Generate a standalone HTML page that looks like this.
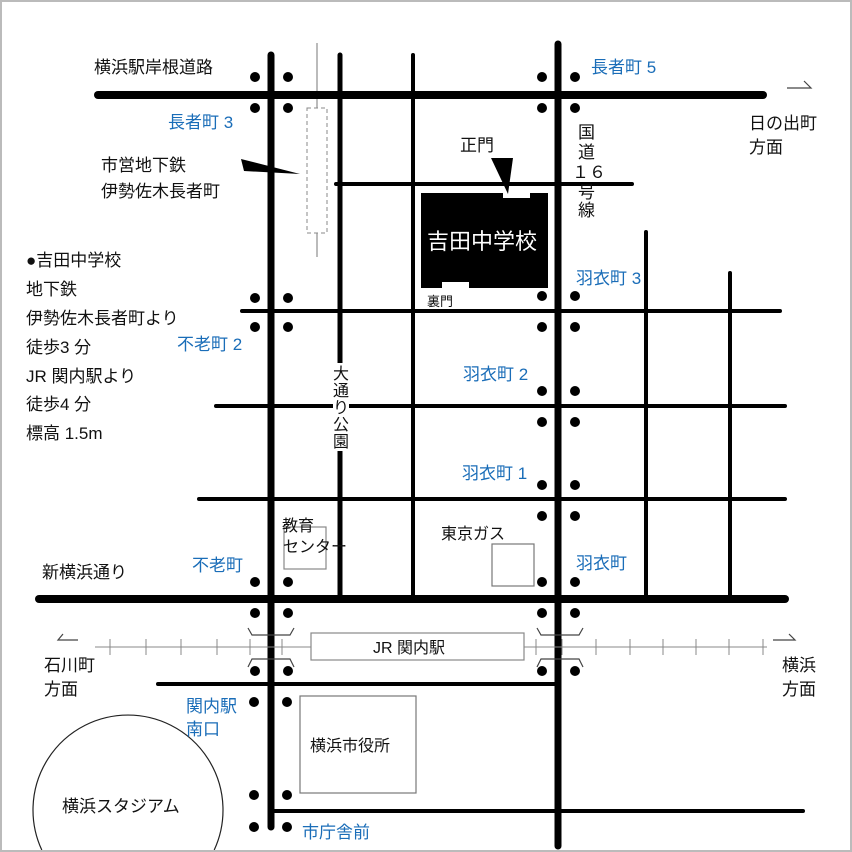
<!DOCTYPE html>
<html><head><meta charset="utf-8"><style>
html,body{margin:0;padding:0;background:#fff;width:852px;height:852px;overflow:hidden}
svg{display:block;overflow:hidden}
text{font-family:"Liberation Sans","Noto Sans CJK JP",sans-serif;font-size:17px;fill:#111}
.b{fill:#1a6db8}
</style></head><body>
<svg width="852" height="852" viewBox="0 0 852 852" xmlns="http://www.w3.org/2000/svg">
<rect x="0" y="0" width="852" height="852" fill="#fff"/>
<path d="M41.8 850 A95 95 0 1 1 214.2 850" fill="none" stroke="#222" stroke-width="1.2"/>
<rect x="1" y="1" width="850" height="850" fill="none" stroke="#bbb" stroke-width="2"/>
<line x1="317" y1="43" x2="317" y2="257" stroke="#777" stroke-width="1"/>
<rect x="307" y="108" width="20" height="125" fill="#fff" stroke="#888" stroke-width="1" stroke-dasharray="4,3"/>
<polygon points="241,159 244,171 300,174" fill="#000"/>
<g stroke="#000" stroke-linecap="round">
<line x1="340" y1="55" x2="340" y2="596" stroke-width="5"/>
<line x1="413" y1="55" x2="413" y2="596" stroke-width="4"/>
<line x1="646" y1="232" x2="646" y2="596" stroke-width="4"/>
<line x1="730" y1="273" x2="730" y2="596" stroke-width="4"/>
<line x1="336" y1="184" x2="632" y2="184" stroke-width="4"/>
<line x1="242" y1="311" x2="780" y2="311" stroke-width="4"/>
<line x1="216" y1="406" x2="785" y2="406" stroke-width="4"/>
<line x1="199" y1="499" x2="785" y2="499" stroke-width="4"/>
<line x1="158" y1="684" x2="555" y2="684" stroke-width="4"/>
<line x1="272" y1="811" x2="803" y2="811" stroke-width="4"/>
<line x1="98" y1="95" x2="763" y2="95" stroke-width="8"/>
<line x1="39" y1="599" x2="785" y2="599" stroke-width="8"/>
<line x1="271" y1="55" x2="271" y2="827" stroke-width="7"/>
<line x1="558" y1="44" x2="558" y2="846" stroke-width="7"/>
</g>
<g stroke="#888" stroke-width="1">
<line x1="95" y1="647" x2="311" y2="647"/>
<line x1="524" y1="647" x2="767" y2="647"/>
<line x1="110" y1="639" x2="110" y2="655"/><line x1="146" y1="639" x2="146" y2="655"/><line x1="181" y1="639" x2="181" y2="655"/><line x1="217" y1="639" x2="217" y2="655"/><line x1="250" y1="639" x2="250" y2="655"/><line x1="282" y1="639" x2="282" y2="655"/>
<line x1="536" y1="639" x2="536" y2="655"/><line x1="562" y1="639" x2="562" y2="655"/><line x1="596" y1="639" x2="596" y2="655"/><line x1="630" y1="639" x2="630" y2="655"/><line x1="663" y1="639" x2="663" y2="655"/><line x1="696" y1="639" x2="696" y2="655"/><line x1="729" y1="639" x2="729" y2="655"/><line x1="763" y1="639" x2="763" y2="655"/>
</g>
<g stroke="#444" stroke-width="1.2" fill="none">
<polyline points="248,628 252,635 290,635 294,628"/><polyline points="248,667 252,659 290,659 294,667"/>
<polyline points="537,628 541,635 579,635 583,628"/><polyline points="537,667 541,659 579,659 583,667"/>
<polyline points="78,640 58,640 63,634"/><polyline points="773,640 795,640 789,634"/>
<polyline points="787,88 811,88 804,81"/>
</g>
<rect x="311" y="633" width="213" height="27" fill="#fff" stroke="#888" stroke-width="1.2"/>
<text x="373" y="653" style="font-size:16px">JR 関内駅</text>
<rect x="300" y="696" width="116" height="97" fill="#fff" stroke="#777" stroke-width="1.2"/>
<text x="310" y="751" style="font-size:16px">横浜市役所</text>
<rect x="284" y="527" width="42" height="42" fill="#fff" stroke="#888" stroke-width="1.2"/>
<rect x="492" y="544" width="42" height="42" fill="#fff" stroke="#777" stroke-width="1.2"/>
<polygon points="421,193 503,193 503,198 530,198 530,193 548,193 548,288 469,288 469,282 442,282 442,288 421,288" fill="#000"/>
<polygon points="491,158 513,158 508,194" fill="#000"/>
<text x="427" y="249" style="font-size:22px;fill:#fff">吉田中学校</text>
<g fill="#000">
<circle cx="255" cy="77" r="5"/><circle cx="288" cy="77" r="5"/><circle cx="255" cy="108" r="5"/><circle cx="288" cy="108" r="5"/>
<circle cx="542" cy="77" r="5"/><circle cx="575" cy="77" r="5"/><circle cx="542" cy="108" r="5"/><circle cx="575" cy="108" r="5"/>
<circle cx="255" cy="298" r="5"/><circle cx="288" cy="298" r="5"/><circle cx="255" cy="327" r="5"/><circle cx="288" cy="327" r="5"/>
<circle cx="542" cy="296" r="5"/><circle cx="575" cy="296" r="5"/><circle cx="542" cy="327" r="5"/><circle cx="575" cy="327" r="5"/>
<circle cx="542" cy="391" r="5"/><circle cx="575" cy="391" r="5"/><circle cx="542" cy="422" r="5"/><circle cx="575" cy="422" r="5"/>
<circle cx="542" cy="485" r="5"/><circle cx="575" cy="485" r="5"/><circle cx="542" cy="516" r="5"/><circle cx="575" cy="516" r="5"/>
<circle cx="255" cy="582" r="5"/><circle cx="288" cy="582" r="5"/><circle cx="542" cy="582" r="5"/><circle cx="575" cy="582" r="5"/>
<circle cx="255" cy="613" r="5"/><circle cx="288" cy="613" r="5"/><circle cx="542" cy="613" r="5"/><circle cx="575" cy="613" r="5"/>
<circle cx="255" cy="671" r="5"/><circle cx="288" cy="671" r="5"/><circle cx="542" cy="671" r="5"/><circle cx="575" cy="671" r="5"/>
<circle cx="254" cy="702" r="5"/><circle cx="287" cy="702" r="5"/>
<circle cx="254" cy="795" r="5"/><circle cx="287" cy="795" r="5"/>
<circle cx="254" cy="827" r="5"/><circle cx="287" cy="827" r="5"/>
</g>
<text x="94" y="73">横浜駅岸根道路</text>
<text x="168" y="128" class="b">長者町 3</text>
<text x="591" y="73" class="b">長者町 5</text>
<text x="101" y="171">市営地下鉄</text>
<text x="101" y="197">伊勢佐木長者町</text>
<text x="460" y="151">正門</text>
<text x="578" y="138">国</text>
<text x="578" y="158">道</text>
<text x="572" y="178">１６</text>
<text x="578" y="198">号</text>
<text x="578" y="216">線</text>
<text x="749" y="129">日の出町</text>
<text x="749" y="153">方面</text>
<text x="26" y="266">●吉田中学校</text>
<text x="26" y="295">地下鉄</text>
<text x="26" y="324">伊勢佐木長者町より</text>
<text x="26" y="353">徒歩3 分</text>
<text x="26" y="382">JR 関内駅より</text>
<text x="26" y="410">徒歩4 分</text>
<text x="26" y="439">標高 1.5m</text>
<text x="427" y="306" style="font-size:13px">裏門</text>
<text x="576" y="284" class="b">羽衣町 3</text>
<text x="177" y="350" class="b">不老町 2</text>
<text x="463" y="380" class="b">羽衣町 2</text>
<text x="462" y="479" class="b">羽衣町 1</text>
<rect x="333" y="363" width="16" height="88" fill="#fff"/>
<text x="333" y="379" style="font-size:16px">大</text><text x="333" y="396" style="font-size:16px">通</text><text x="333" y="413" style="font-size:16px">り</text><text x="333" y="430" style="font-size:16px">公</text><text x="333" y="447" style="font-size:16px">園</text>
<text x="282" y="531" style="font-size:16px">教育</text>
<text x="283" y="552" style="font-size:16px">センター</text>
<text x="441" y="539" style="font-size:16px">東京ガス</text>
<text x="192" y="571" class="b">不老町</text>
<text x="576" y="569" class="b">羽衣町</text>
<text x="42" y="578">新横浜通り</text>
<text x="44" y="671">石川町</text>
<text x="44" y="695">方面</text>
<text x="782" y="671">横浜</text>
<text x="782" y="695">方面</text>
<text x="186" y="712" class="b">関内駅</text>
<text x="186" y="735" class="b">南口</text>
<text x="62" y="812">横浜スタジアム</text>
<text x="302" y="838" class="b">市庁舎前</text>
</svg>
</body></html>
